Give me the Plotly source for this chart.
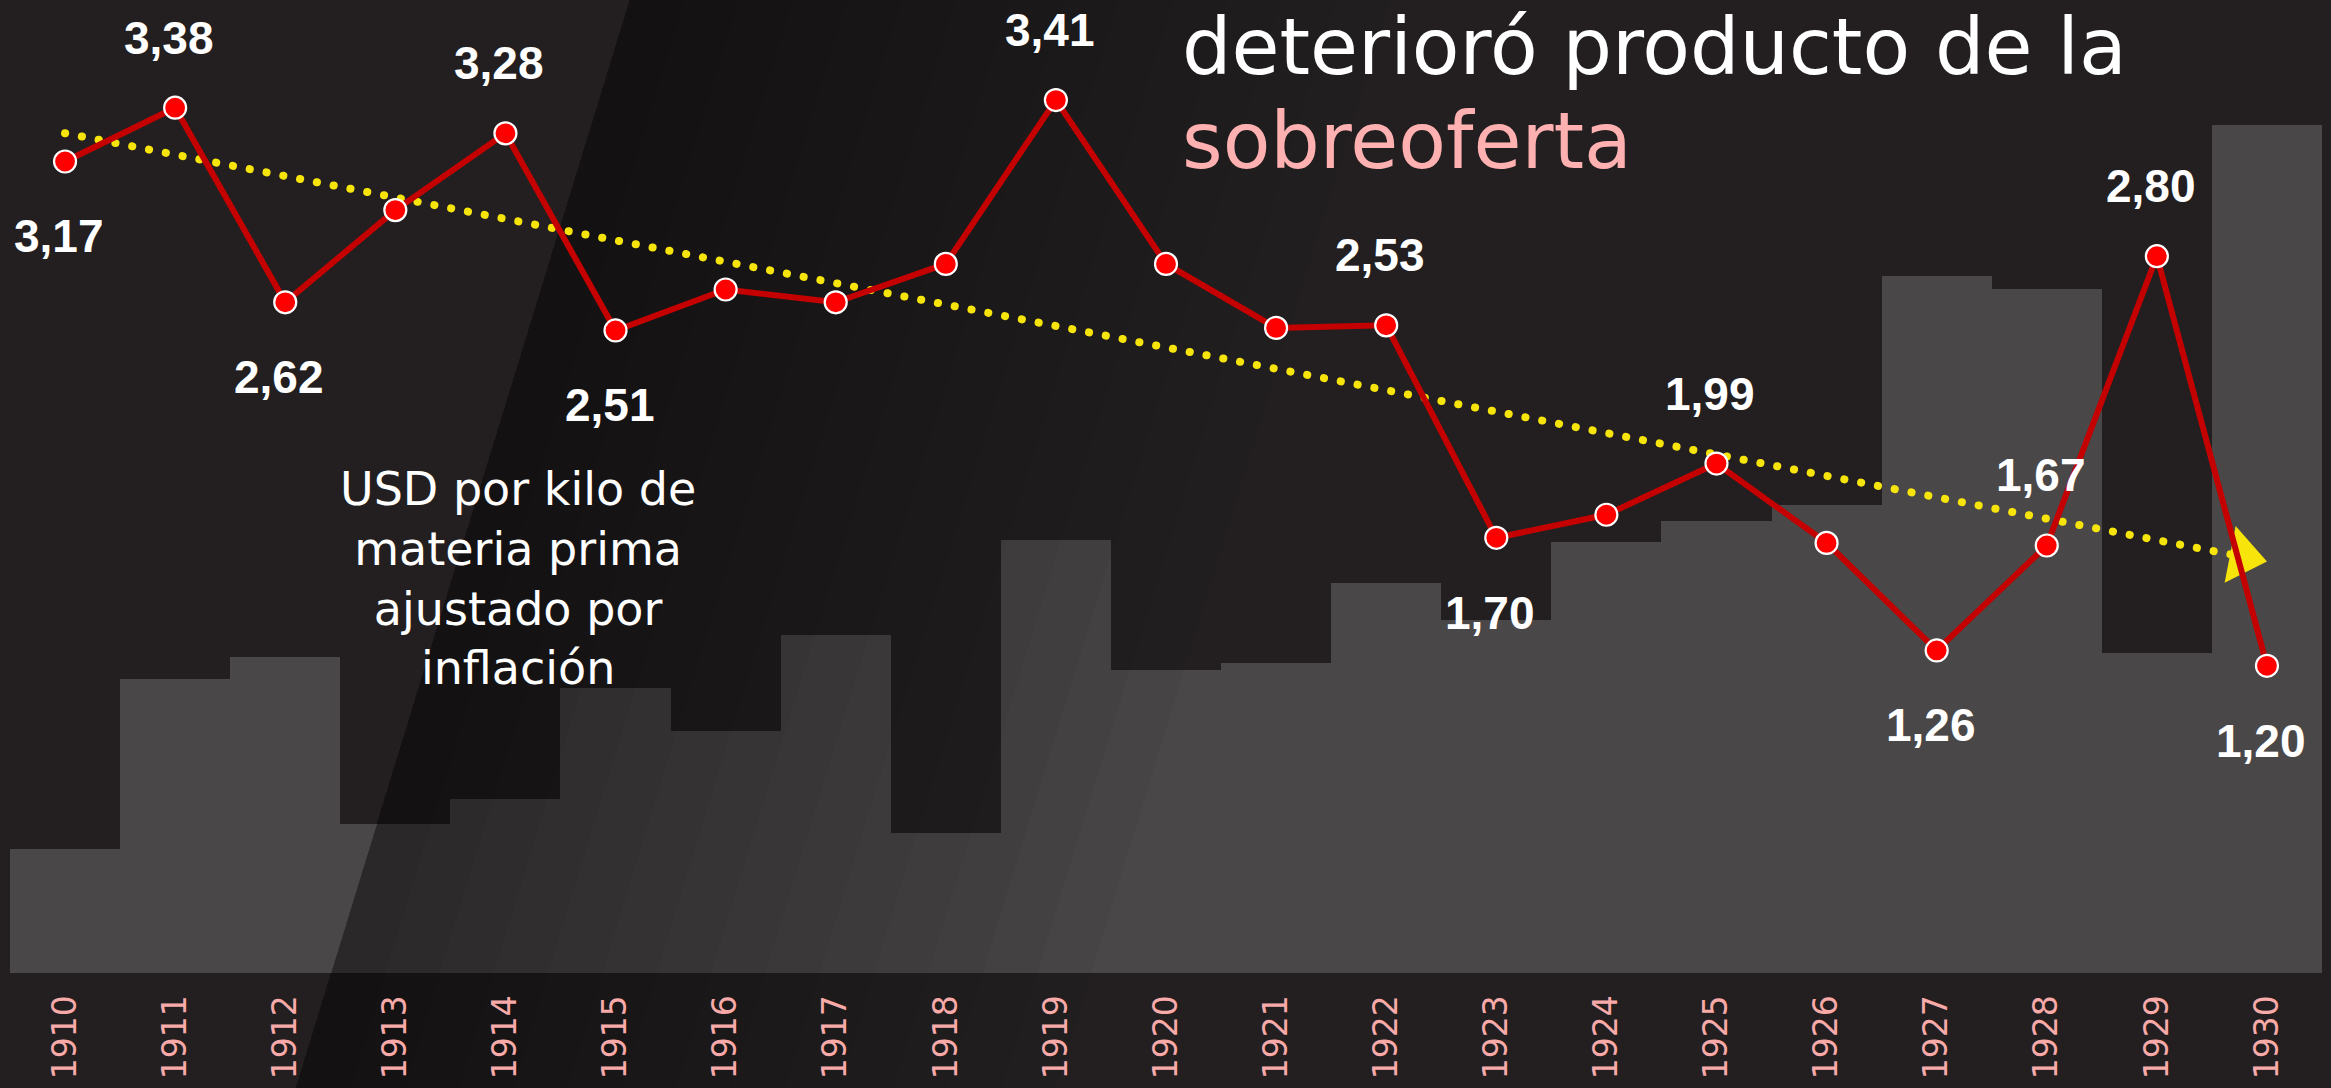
import numpy as np
import plotly.graph_objects as go

# ---------------- data ----------------
anios = list(range(1910, 1931))
precio_usd_kg = [3.17, 3.38, 2.62, 2.98, 3.28, 2.51, 2.67, 2.62, 2.77, 3.41,
                 2.77, 2.52, 2.53, 1.70, 1.79, 1.99, 1.68, 1.26, 1.67, 2.80, 1.20]
produccion = [124, 294, 316, 149, 174, 285, 242, 338, 140, 433,
              303, 310, 390, 353, 431, 452, 468, 697, 684, 320, 848]
etiquetas_arriba = [1911, 1914, 1919, 1922, 1925, 1928, 1929]
etiquetas_abajo = [1910, 1912, 1915, 1923, 1927, 1930]
titulo_1 = "deterioró producto de la"
titulo_2 = "sobreoferta"
nota = ["USD por kilo de", "materia prima", "ajustado por", "inflación"]

# ---------------- geometry / style ----------------
W, H = 2331, 1088
BAR_LEFT, BAR_RIGHT, BASE = 10, 2322, 973
PX_PER_YEAR = (BAR_RIGHT - BAR_LEFT) / len(anios)
PX_PER_USD = 256.0
X_LO = anios[0] - 0.5 - BAR_LEFT / PX_PER_YEAR
X_HI = anios[-1] + 0.5 + (W - BAR_RIGHT) / PX_PER_YEAR
Y_LO, Y_HI = -(H - BASE) / PX_PER_USD, BASE / PX_PER_USD
YB_LO, YB_HI = -(H - BASE), BASE

BG = "#231f20"
BAR = "#4a4748"
RED_LINE = "#c40000"
RED_DOT = "#ff0000"
YELLOW = "#f6e40a"
PINK = "#ffb0b0"
TICK_PINK = "#f8aaa9"
LABEL_FONT = dict(family="Liberation Sans, Arial, sans-serif", size=46, color="white")
SANS = "'DejaVu Sans', Lato, sans-serif"
ARROW_SIZE = 50


def px2x(px):
    return X_LO + px / PX_PER_YEAR


def py2y(py):
    return (BASE - py) / PX_PER_USD


fig = go.Figure()

# bars (production) on primary axes
fig.add_trace(go.Bar(
    x=anios, y=produccion, marker=dict(color=BAR, line=dict(width=0)),
    width=1.0, yaxis="y", hoverinfo="skip", showlegend=False))

# diagonal shaded band (decoration), gradient made of stacked translucent layers
N_LAYERS = 14
for j in range(N_LAYERS):
    w = 760 * (j + 1) / N_LAYERS
    pxs = [630, 630 + w, 296 + w, 296, 630]
    pys = [0, 0, H, H, 0]
    fig.add_trace(go.Scatter(
        x=[px2x(p) for p in pxs], y=[py2y(p) for p in pys], yaxis="y2",
        mode="lines", fill="toself", fillcolor="rgba(0,0,0,0.032)",
        line=dict(width=0), hoverinfo="skip", showlegend=False))

# trend line (least squares) with arrow head
coef = np.polyfit(anios, precio_usd_kg, 1)
tx = [anios[0], anios[-1]]
ty = list(np.polyval(coef, tx))
fig.add_trace(go.Scatter(
    x=tx, y=ty, yaxis="y2", mode="lines+markers",
    line=dict(color=YELLOW, width=8, dash="8px,9px"),
    marker=dict(symbol="triangle-up", size=[0, ARROW_SIZE], color=YELLOW,
                angleref="previous", standoff=[0, ARROW_SIZE / 2],
                line=dict(width=0), opacity=1),
    hoverinfo="skip", showlegend=False))

# price line
fig.add_trace(go.Scatter(
    x=anios, y=precio_usd_kg, yaxis="y2", mode="lines+markers",
    line=dict(color=RED_LINE, width=6),
    marker=dict(size=22, color=RED_DOT, line=dict(color="white", width=2.2)),
    hoverinfo="skip", showlegend=False))

annotations = []
for yr, v in zip(anios, precio_usd_kg):
    txt = f"{v:.2f}".replace(".", ",")
    if yr in etiquetas_arriba:
        shift = 70
    elif yr in etiquetas_abajo:
        shift = -75
    else:
        continue
    annotations.append(dict(x=yr, y=v, xref="x", yref="y2", text=f"<b>{txt}</b>",
                            showarrow=False, yshift=shift, xshift=-6,
                            font=LABEL_FONT, xanchor="center", yanchor="middle"))

# note text
annotations.append(dict(x=518 / W, y=1 - 578 / H, xref="paper", yref="paper",
                        text="<br>".join(nota), showarrow=False, align="center",
                        xanchor="center", yanchor="middle",
                        font=dict(family=SANS, size=46, color="white")))

# title
annotations.append(dict(x=1180 / W, y=1 - 47 / H, xref="paper", yref="paper", text=titulo_1,
                        showarrow=False, xanchor="left", yanchor="middle",
                        font=dict(family=SANS, size=78, color="white")))
annotations.append(dict(x=1180 / W, y=1 - 141 / H, xref="paper", yref="paper", text=titulo_2,
                        showarrow=False, xanchor="left", yanchor="middle",
                        font=dict(family=SANS, size=78, color=PINK)))

fig.update_layout(
    width=W, height=H,
    margin=dict(l=0, r=0, t=0, b=0, pad=0),
    paper_bgcolor=BG, plot_bgcolor=BG,
    bargap=0,
    showlegend=False,
    xaxis=dict(range=[X_LO, X_HI], tickmode="array", tickvals=anios,
               ticktext=[str(a) for a in anios], tickangle=-90,
               tickfont=dict(family="'DejaVu Sans', sans-serif", size=33, color=TICK_PINK),
               ticks="outside", ticklen=8, tickcolor="rgba(0,0,0,0)",
               showgrid=False, zeroline=False, showline=False,
               anchor="free", position=(H - BASE) / H),
    yaxis=dict(range=[YB_LO, YB_HI], visible=False, showgrid=False, zeroline=False),
    yaxis2=dict(range=[Y_LO, Y_HI], overlaying="y", visible=False,
                showgrid=False, zeroline=False),
    annotations=annotations,
)

post = """
document.body.style.margin = '0';
document.body.style.overflow = 'hidden';
document.querySelectorAll('path.js-line').forEach(function(p){
  var s = p.style.stroke || '';
  if (s.indexOf('246, 228, 10') >= 0) {
    p.style.strokeLinecap = 'round';
    p.style.strokeDasharray = '0.1px,17px';
  }
});
"""
fig.write_html("out.html", post_script=post, config={"displayModeBar": False})
